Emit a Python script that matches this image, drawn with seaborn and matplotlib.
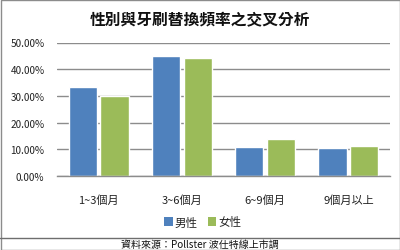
import matplotlib
matplotlib.use("Agg")
import matplotlib.pyplot as plt
import seaborn as sns
import pandas as pd
from matplotlib.patches import Patch, Rectangle
from matplotlib.lines import Line2D
from matplotlib.ticker import FuncFormatter

categories = ["1~3個月", "3~6個月", "6~9個月", "9個月以上"]
male = [0.335, 0.448, 0.107, 0.105]
female = [0.301, 0.443, 0.137, 0.111]
series_names = ["男性", "女性"]
title = "性別與牙刷替換頻率之交叉分析"
source = "資料來源：Pollster 波仕特線上市調"
colors = ["#4F81BD", "#9BBB59"]

sns.set_theme(style="white")
plt.rcParams['font.family'] = ['Noto Sans CJK TC', 'DejaVu Sans']

df = pd.DataFrame({
    "類別": categories * 2,
    "比例": male + female,
    "性別": [series_names[0]] * len(categories) + [series_names[1]] * len(categories),
})

fig = plt.figure(figsize=(4.0, 2.51), dpi=100)
ax = fig.add_axes([57 / 400, 1 - 177 / 251, 333 / 400, (177 - 43.5) / 251])

sns.barplot(data=df, x="類別", y="比例", hue="性別", palette=colors,
            width=0.76, gap=0.11, ax=ax, legend=False, saturation=1)

ax.set_ylim(0, 0.5)
ax.set_xlim(-0.5, len(categories) - 0.5)
ax.set_yticks([0, 0.1, 0.2, 0.3, 0.4, 0.5])
ax.yaxis.set_major_formatter(FuncFormatter(lambda v, p: f"{v*100:.2f}%"))
ax.grid(axis="y", color="#8C8C8C", linewidth=1.0)
ax.set_axisbelow(True)
for s in ["top", "right", "left"]:
    ax.spines[s].set_visible(False)
ax.spines["bottom"].set_color("#8C8C8C")
ax.spines["bottom"].set_linewidth(1.0)
ax.tick_params(axis="y", length=0, pad=9, labelsize=7.2, labelcolor="#222222")
ax.tick_params(axis="x", length=0, pad=13, labelsize=8, labelcolor="#222222")
ax.set_xlabel("")
ax.set_ylabel("")

fig.text(0.5, 1 - 20 / 251, title, ha="center", va="center", fontsize=11.3,
         fontweight="bold", color="#111111")

handles = [Patch(facecolor=c, edgecolor="none") for c in colors]
fig.legend(handles, series_names, loc="center", bbox_to_anchor=(203 / 400, 1 - 223 / 251),
           ncol=2, frameon=False, fontsize=8.3, handlelength=0.7, handleheight=0.7,
           handletextpad=0.2, columnspacing=0.9, borderpad=0)

# outer border and source box
fig.patches.append(Rectangle((0.5 / 400, 0.5 / 251), 399 / 400, 250 / 251, transform=fig.transFigure,
                             fill=False, edgecolor="#8C8C8C", linewidth=1.0))
fig.lines.append(Line2D([0, 1], [1 - 239 / 251, 1 - 239 / 251], transform=fig.transFigure,
                        color="#6E6E6E", linewidth=1.0))
fig.text(0.5, 1 - 245 / 251, source, ha="center", va="center", fontsize=7.2, color="#111111")

fig.savefig("out.png", dpi=100)
